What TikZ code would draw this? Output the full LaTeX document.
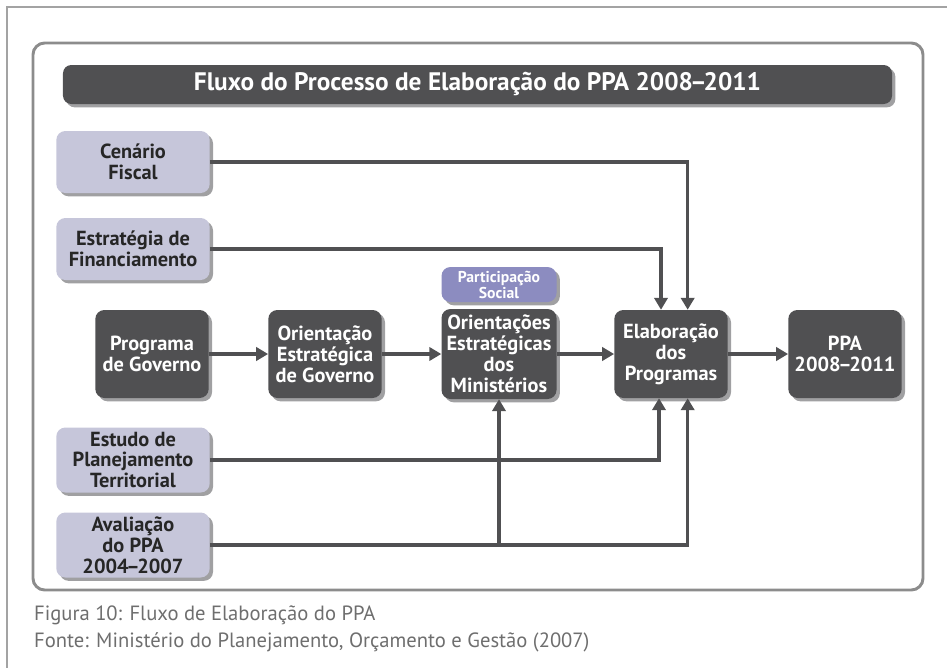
\documentclass[tikz,border=0pt]{standalone}
\usepackage{fontspec}
\setmainfont{PT Sans}
\usetikzlibrary{arrows.meta,shadows,positioning}

\definecolor{boxdark}{RGB}{80,80,82}
\definecolor{boxlight}{RGB}{198,198,218}
\definecolor{boxsocial}{RGB}{140,140,192}
\definecolor{shade}{RGB}{160,160,162}
\definecolor{framegray}{RGB}{140,140,140}
\definecolor{captiongray}{RGB}{110,110,110}

\newcommand{\yrdash}{\kern-.12em–\kern-.12em}

\begin{document}
\begin{tikzpicture}[x=0.03cm, y=-0.03cm,
  box/.style={rounded corners=0.27cm, align=center, inner sep=0pt,
    font=\bfseries\fontsize{17.4}{17.9}\selectfont,
    drop shadow={shadow xshift=0.1cm, shadow yshift=-0.1cm, fill=shade, opacity=1}},
  lightbox/.style={box, fill=boxlight, text=black!85, minimum width=4.6cm, minimum height=1.86cm},
  darkbox/.style={box, fill=boxdark, text=white, minimum width=3.4cm, minimum height=2.64cm},
  socialbox/.style={box, fill=boxsocial, text=white, minimum width=3.45cm, minimum height=1.05cm,
    font=\bfseries\fontsize{13.4}{13.7}\selectfont},
  caption/.style={anchor=base west, text=captiongray, font=\fontsize{17.6}{20}\selectfont},
  flow/.style={draw=boxdark, line width=2.6pt, -{Triangle[width=0.4cm,length=0.36cm]}}]

\useasboundingbox (0,0) rectangle (947,668);

% page edge and frame
\draw[framegray!80, line width=1.5pt] (947,7) -- (7,7) -- (7,668);
\draw[framegray, line width=2.5pt, rounded corners=0.35cm] (33,43) rectangle (923,590);

% title bar
\node[box, fill=boxdark, text=white, minimum width=24.87cm, minimum height=1.17cm,
  rounded corners=0.25cm, font=\bfseries\fontsize{21.6}{24}\selectfont] (titlebar) at (477.5,84.5)
  {Fluxo do Processo de Elaboração do PPA 2008\yrdash2011};

% inputs (left column)
\node[lightbox] (cenario) at (133,162) {Cenário\\Fiscal};
\node[lightbox] (financ) at (133,249) {Estratégia de\\Financiamento};
\node[lightbox, minimum height=1.95cm] (estudo) at (133,460) {Estudo de\\Planejamento\\Territorial};
\node[lightbox, minimum height=1.95cm] (avaliacao) at (133,545) {Avaliação\\do PPA\\2004\yrdash2007};

% main flow
\node[darkbox] (programa) at (152,354) {Programa\\de Governo};
\node[darkbox] (orientgov) at (325,354) {Orientação\\Estratégica\\de Governo};
\node[darkbox, minimum width=3.45cm, minimum height=2.7cm] (ministerios) at (499,354)
  {Orientações\\Estratégicas\\dos\\Ministérios};
\node[socialbox] (participa) at (499,284.5) {Participação\\Social};
\node[darkbox] (elabora) at (671,354) {Elaboração\\dos\\Programas};
\node[darkbox] (ppa) at (845,354) {PPA\\2008\yrdash2011};

% arrows
\draw[flow] (programa) -- (orientgov);
\draw[flow] (orientgov) -- (ministerios);
\draw[flow] (ministerios) -- (elabora);
\draw[flow] (elabora) -- (ppa);
\draw[flow] (cenario.east) -| ([xshift=0.5cm]elabora.north);
\draw[flow] (financ.east) -| ([xshift=-0.3cm]elabora.north);
\draw[flow] (estudo.east) -| ([xshift=-0.36cm]elabora.south);
\draw[flow] (avaliacao.east) -| ([xshift=0.5cm]elabora.south);
\draw[flow] (ministerios.south |- avaliacao.east) -- (ministerios.south);

% caption
\node[caption] (figura) at (30,620) {Figura 10: Fluxo de Elaboração do PPA};
\node[caption] (fonte) at (30,647) {Fonte: Ministério do Planejamento, Orçamento e Gestão (2007)};

\end{tikzpicture}
\end{document}
